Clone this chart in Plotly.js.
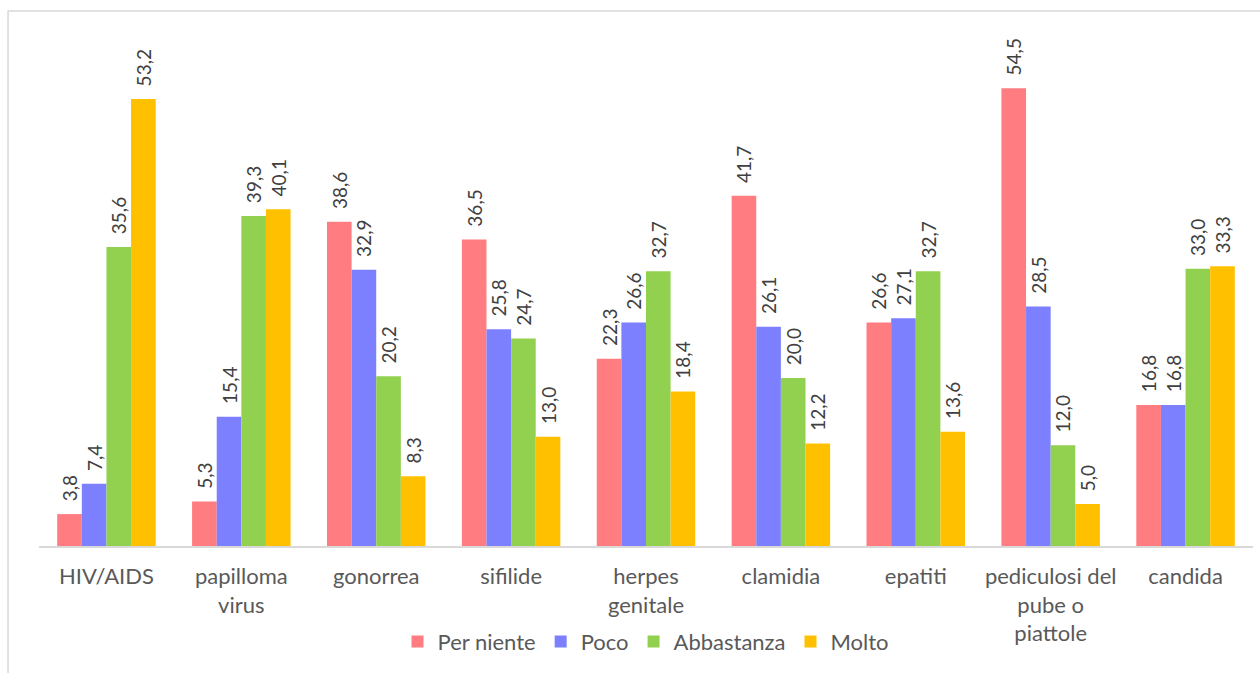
<!DOCTYPE html>
<html>
<head>
<meta charset="utf-8">
<script src="https://cdn.plot.ly/plotly-3.0.1.min.js"></script>
<style>html,body{margin:0;padding:0;background:#fff;}#chart{width:1260px;height:673px;}</style>
</head>
<body>
<div id="chart"></div>
<script>
const categories = ["HIV/AIDS", "papilloma<br>virus", "gonorrea", "sifilide", "herpes<br>genitale", "clamidia", "epatiti", "pediculosi del<br>pube o<br>piattole", "candida"];
const seriesNames = ["Per niente", "Poco", "Abbastanza", "Molto"];
const perNiente = [3.8, 5.3, 38.6, 36.5, 22.3, 41.7, 26.6, 54.5, 16.8];
const poco = [7.4, 15.4, 32.9, 25.8, 26.6, 26.1, 27.1, 28.5, 16.8];
const abbastanza = [35.6, 39.3, 20.2, 24.7, 32.7, 20.0, 32.7, 12.0, 33.0];
const molto = [53.2, 40.1, 8.3, 13.0, 18.4, 12.2, 13.6, 5.0, 33.3];
const colors = ["#FF7C80", "#7C80FF", "#92D050", "#FFC000"];

const allValues = [perNiente, poco, abbastanza, molto];
const traces = allValues.map((vals, i) => ({
  type: "bar",
  name: seriesNames[i],
  x: categories,
  y: vals,
  marker: {color: colors[i], line: {width: 0}},
  texttemplate: "\u00A0\u00A0%{y:.1f}",
  textposition: "outside",
  textangle: -90,
  constraintext: "none",
  cliponaxis: false,
  textfont: {family: "Lato, sans-serif", size: 19, color: "#404040"},
  hoverinfo: "skip"
}));

const layout = {
  width: 1260, height: 673,
  margin: {l: 39, r: 7, t: 42, b: 127},
  paper_bgcolor: "#fff", plot_bgcolor: "#fff",
  separators: ",.",
  barmode: "group",
  bargap: 0.27,
  bargroupgap: 0,
  showlegend: true,
  legend: {orientation: "h", x: 0.5, xanchor: "center", y: -0.19, yanchor: "middle",
           font: {family: "Lato, sans-serif", size: 22, color: "#595959"}, traceorder: "normal"},
  xaxis: {showline: true, linecolor: "#D9D9D9", linewidth: 1.5, ticks: "", showgrid: false,
          ticklabelstandoff: 10,
          tickfont: {family: "Lato, sans-serif", size: 22, color: "#595959"}, fixedrange: true},
  yaxis: {range: [0, 60], visible: false, showgrid: false, zeroline: false, fixedrange: true},
  shapes: [{type: "rect", xref: "paper", yref: "paper", x0: -0.0255, x1: 1.05, y0: -0.3, y1: 1.0615,
            line: {color: "#D9D9D9", width: 1.5}, fillcolor: "rgba(0,0,0,0)", layer: "below"}]
};

Plotly.newPlot("chart", traces, layout, {displayModeBar: false, staticPlot: true});
</script>
</body>
</html>
